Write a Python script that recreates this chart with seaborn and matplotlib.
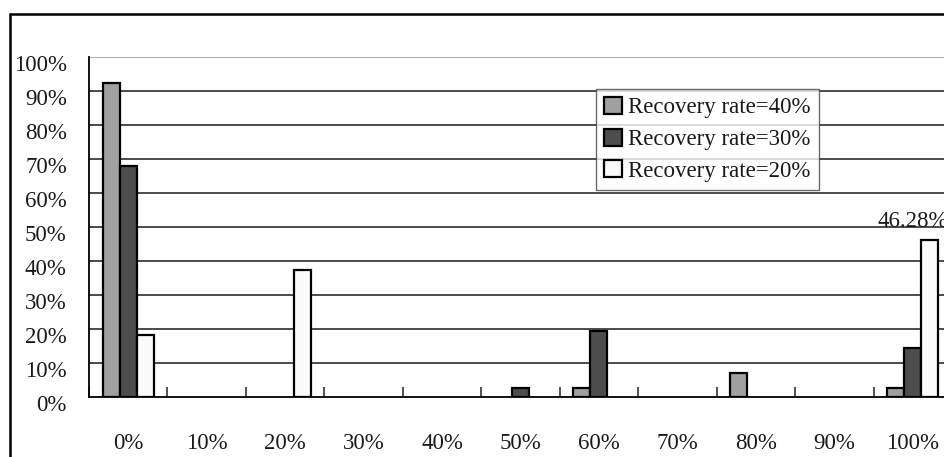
import numpy as np
import pandas as pd
import seaborn as sns
import matplotlib
matplotlib.use("Agg")
import matplotlib.pyplot as plt
from matplotlib.lines import Line2D
from matplotlib.transforms import ScaledTranslation

# Distribution of outcomes by bucket, for three recovery-rate assumptions (percent)
buckets = ["0%", "10%", "20%", "30%", "40%", "50%", "60%", "70%", "80%", "90%", "100%"]
series_names = ["Recovery rate=40%", "Recovery rate=30%", "Recovery rate=20%"]
rate_40 = [92.3, 0, 0, 0, 0, 0, 2.7, 0, 7.2, 0, 2.7]
rate_30 = [68.0, 0, 0, 0, 0, 2.7, 19.5, 0, 0, 0, 14.5]
rate_20 = [18.3, 0, 37.4, 0, 0, 0, 0, 0, 0, 0, 46.28]
bar_colors = ["#a0a0a0", "#4d4d4d", "#fafafa"]
y_ticks = [0, 10, 20, 30, 40, 50, 60, 70, 80, 90, 100]

df = pd.DataFrame({
    "bucket": buckets * 3,
    "series": np.repeat(series_names, len(buckets)),
    "value": rate_40 + rate_30 + rate_20,
})
# empty buckets have no visible bar
df = df[df["value"] > 0]

sns.set_theme(style="white")
plt.rcParams["font.family"] = ["Liberation Serif", "DejaVu Serif"]

W, H = 944, 457
fig = plt.figure(figsize=(W / 100, H / 100), dpi=100)
ax = fig.add_axes([89 / W, (H - 397) / H, (952 - 89) / W, 340 / H])

sns.barplot(data=df, x="bucket", y="value", hue="series", order=buckets,
            hue_order=series_names, palette=bar_colors, width=0.65,
            edgecolor="black", linewidth=1.6, saturation=1, ax=ax, zorder=3)

ax.set_xlim(-0.5, len(buckets) - 0.5)
ax.set_ylim(0, 100)
ax.set_xlabel("")
ax.set_ylabel("")

# horizontal gridlines
ax.set_yticks(y_ticks)
ax.set_yticklabels([f"{v}%" for v in y_ticks])
for v in y_ticks[1:]:
    ax.axhline(v, color="#999999" if v == 100 else "#1a1a1a",
               lw=1.1, zorder=1)

for side in ["top", "right"]:
    ax.spines[side].set_visible(False)
for side in ["left", "bottom"]:
    ax.spines[side].set_color("black")
    ax.spines[side].set_linewidth(1.3)
    ax.spines[side].set_zorder(4)

ax.tick_params(axis="y", length=0, pad=16, labelsize=16.5, labelcolor="#1a1a1a")
ax.tick_params(axis="x", which="major", length=0, pad=26, labelsize=16.5,
               labelcolor="#1a1a1a")
ax.set_xticks(np.arange(-0.5, len(buckets), 1), minor=True)
ax.tick_params(axis="x", which="minor", direction="in", length=7, width=1.2,
               color="#333333", bottom=True)

# nudge y labels slightly downward
for lbl in ax.get_yticklabels():
    lbl.set_transform(lbl.get_transform()
                      + ScaledTranslation(0, -6 / 100, fig.dpi_scale_trans))

# value label over the last bucket
ax.text(len(buckets) - 1, rate_20[-1] + 2.2, f"{rate_20[-1]:.2f}%",
        ha="center", va="bottom", fontsize=16.5, color="#1a1a1a", zorder=5)

leg = ax.legend(loc="upper right", bbox_to_anchor=((819 - 89) / 863, (397 - 89) / 340),
                fontsize=16.5, frameon=True, fancybox=False, shadow=False,
                handlelength=0.75, handleheight=0.75, handletextpad=0.3,
                labelspacing=0.45, borderpad=0.35, borderaxespad=0)
leg.get_frame().set_edgecolor("#444444")
leg.get_frame().set_linewidth(1.0)
for t in leg.get_texts():
    t.set_color("#1a1a1a")

# outer frame of the chart
fig.add_artist(Line2D([10 / W, 10 / W], [0, 1 - 14 / H], transform=fig.transFigure,
                      color="black", lw=1.8))
fig.add_artist(Line2D([10 / W, 1.0], [1 - 14 / H, 1 - 14 / H], transform=fig.transFigure,
                      color="black", lw=1.8))

fig.savefig("out.png", dpi=100, facecolor="white")
